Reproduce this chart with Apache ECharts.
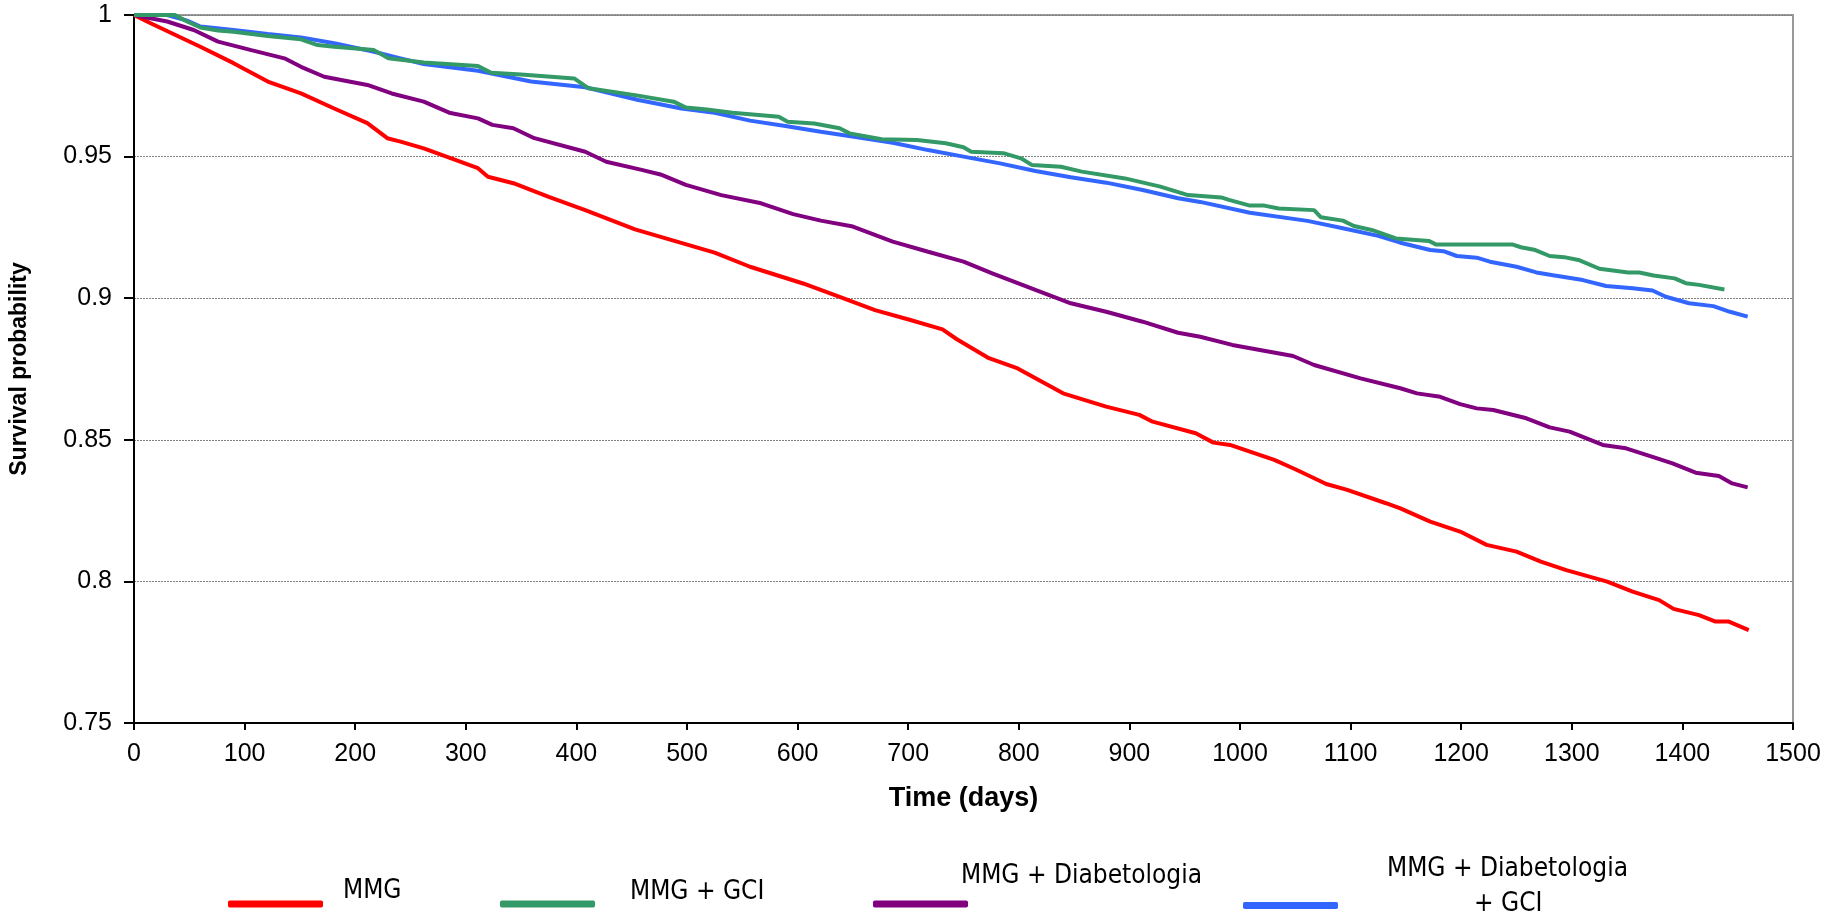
<!DOCTYPE html>
<html>
<head>
<meta charset="utf-8">
<title>Survival probability</title>
<script src="https://cdn.jsdelivr.net/npm/echarts@6/dist/echarts.min.js"></script>
<style>
    html, body { margin: 0; padding: 0; background: #fff; }
    #chart-container { width: 1825px; height: 919px; }
</style>
</head>
<body>
<div id="chart-container"></div>
<script>
'use strict';

// [day, survival probability]
const mmg = [
    [0, 1], [15, 0.9971], [60, 0.9888], [90, 0.983], [121, 0.9765], [151, 0.9723],
    [181, 0.967], [211, 0.9618], [229, 0.9565], [241, 0.9553], [262, 0.9529],
    [311, 0.9459], [320, 0.9429], [343, 0.9406], [375, 0.9358], [408, 0.9311],
    [453, 0.9243], [494, 0.9196], [525, 0.9161], [557, 0.9111], [605, 0.9052],
    [638, 0.9005], [670, 0.8958], [702, 0.8923], [731, 0.889], [744, 0.8855],
    [773, 0.8788], [799, 0.8752], [840, 0.8664], [879, 0.8617], [909, 0.8588],
    [921, 0.8564], [960, 0.8523], [976, 0.849], [991, 0.8482], [1031, 0.8429],
    [1050, 0.8396], [1078, 0.8344], [1097, 0.8323], [1132, 0.8276], [1145, 0.8258],
    [1172, 0.8211], [1199, 0.8176], [1223, 0.8129], [1250, 0.8105], [1272, 0.807],
    [1295, 0.804], [1332, 0.7999], [1355, 0.7964], [1379, 0.7934], [1392, 0.7903],
    [1415, 0.7881], [1430, 0.7858], [1442, 0.7858], [1451, 0.7843], [1460, 0.7828]
];

const mmgGci = [
    [0, 1], [37, 1], [48, 0.9977], [60, 0.9956], [76, 0.9945], [90, 0.9941],
    [121, 0.9926], [151, 0.9914], [166, 0.9894], [181, 0.9888], [217, 0.9876],
    [230, 0.9847], [262, 0.9832], [311, 0.982], [323, 0.9796], [350, 0.979],
    [398, 0.9776], [411, 0.9741], [453, 0.9717], [488, 0.9694], [499, 0.9673],
    [518, 0.9666], [541, 0.9655], [583, 0.9641], [591, 0.9623], [615, 0.9617],
    [638, 0.96], [647, 0.9582], [676, 0.9561], [708, 0.9559], [734, 0.9547],
    [750, 0.9533], [757, 0.9517], [786, 0.9512], [802, 0.9494], [812, 0.947],
    [838, 0.9464], [857, 0.9447], [896, 0.9423], [928, 0.9394], [953, 0.9364],
    [983, 0.9356], [990, 0.9347], [1009, 0.9327], [1022, 0.9327], [1035, 0.9317],
    [1067, 0.9311], [1073, 0.9286], [1093, 0.9274], [1103, 0.9255], [1119, 0.9241],
    [1141, 0.9211], [1171, 0.9202], [1177, 0.919], [1246, 0.919], [1254, 0.918],
    [1267, 0.917], [1280, 0.9149], [1293, 0.9145], [1306, 0.9135], [1325, 0.9104],
    [1351, 0.9091], [1361, 0.9091], [1374, 0.908], [1393, 0.907], [1403, 0.9053],
    [1415, 0.9047], [1438, 0.9031]
];

const mmgDiab = [
    [0, 1], [30, 0.9977], [54, 0.9947], [76, 0.9906], [106, 0.9876], [136, 0.9847],
    [151, 0.9817], [172, 0.9782], [211, 0.9753], [233, 0.9723], [262, 0.9694],
    [285, 0.9655], [311, 0.9635], [324, 0.9612], [343, 0.96], [362, 0.9565],
    [408, 0.9517], [427, 0.9482], [459, 0.9453], [476, 0.9437], [499, 0.94],
    [531, 0.9364], [567, 0.9335], [596, 0.9297], [621, 0.9274], [650, 0.9253],
    [686, 0.92], [718, 0.9164], [750, 0.9129], [776, 0.9088], [815, 0.9029],
    [847, 0.8982], [879, 0.8952], [912, 0.8917], [944, 0.8878], [964, 0.8864],
    [993, 0.8835], [1048, 0.8796], [1067, 0.8764], [1109, 0.8717], [1145, 0.8682],
    [1160, 0.8664], [1181, 0.8652], [1199, 0.8626], [1214, 0.8611], [1229, 0.8605],
    [1259, 0.8576], [1280, 0.8544], [1298, 0.8529], [1328, 0.8482], [1349, 0.847],
    [1373, 0.844], [1391, 0.8417], [1412, 0.8384], [1433, 0.8372], [1445, 0.8346],
    [1459, 0.8332]
];

const mmgDiabGci = [
    [0, 1], [30, 1], [48, 0.998], [60, 0.9959], [90, 0.9947], [121, 0.9933],
    [151, 0.9921], [181, 0.99], [217, 0.987], [241, 0.9847], [262, 0.9827],
    [311, 0.9803], [359, 0.9765], [408, 0.9745], [456, 0.97], [495, 0.967],
    [525, 0.9655], [557, 0.9627], [589, 0.9608], [621, 0.9588], [654, 0.9568],
    [686, 0.9549], [718, 0.9523], [750, 0.95], [783, 0.9476], [815, 0.9449],
    [847, 0.9427], [879, 0.9408], [912, 0.9382], [944, 0.9353], [964, 0.934],
    [1009, 0.9302], [1061, 0.9273], [1093, 0.9247], [1125, 0.922], [1145, 0.9196],
    [1172, 0.917], [1184, 0.9166], [1196, 0.9149], [1214, 0.9143], [1226, 0.9129],
    [1250, 0.9111], [1268, 0.9091], [1283, 0.9081], [1310, 0.9064], [1331, 0.9043],
    [1355, 0.9035], [1373, 0.9027], [1385, 0.9005], [1406, 0.8982], [1428, 0.8972],
    [1443, 0.8952], [1459, 0.8935]
];

const seriesNames = ['MMG', 'MMG + GCI', 'MMG + Diabetologia', 'MMG + Diabetologia + GCI'];
const seriesColors = ['#ff0000', '#339966', '#800080', '#3366ff'];

const axisFont = "'Liberation Sans', Arial, sans-serif";
const legendFont = "'DejaVu Sans Condensed', 'Liberation Sans Narrow', 'DejaVu Sans', sans-serif";

function lineSeries(idx, data, z) {
    return {
        name: seriesNames[idx],
        type: 'line',
        data: data,
        showSymbol: false,
        symbol: 'none',
        z: z,
        lineStyle: { color: seriesColors[idx], width: 4 },
        itemStyle: { color: seriesColors[idx] },
        emphasis: { disabled: true }
    };
}

const legendText = { fontFamily: legendFont, fontSize: 26, lineHeight: 35, color: '#000' };

// each legend entry is placed on its own, text lifted above the line like the original
function legendFor(idx, left, top, padding, lines) {
    return {
        left: left,
        top: top,
        padding: 0,
        icon: 'roundRect',
        itemWidth: 95,
        itemHeight: 7,
        selectedMode: false,
        data: [seriesNames[idx]],
        formatter: function () {
            return lines;
        },
        textStyle: {
            fontFamily: legendFont,
            fontSize: 26,
            color: '#000',
            padding: padding,
            rich: {
                a: legendText,
                b: Object.assign({}, legendText, { padding: [0, 0, 0, 87] })
            }
        }
    };
}

const myChart = echarts.init(document.getElementById('chart-container'), null, { renderer: 'canvas' });

const option = {
    animation: false,
    backgroundColor: '#fff',
    grid: {
        left: 133,
        right: 32,
        top: 15,
        bottom: 196,
        show: true,
        borderColor: '#9a9a9a',
        borderWidth: 2
    },
    legend: [
        legendFor(0, 228, 878, [0, 0, 26, 15], '{a|MMG}'),
        legendFor(1, 500, 879, [0, 0, 24, 30], '{a|MMG + GCI}'),
        legendFor(2, 873, 863, [0, 0, 56, -12], '{a|MMG + Diabetologia}'),
        legendFor(3, 1243, 856, [0, 0, 38, 44], '{a|MMG + Diabetologia}\n{b|+ GCI}')
    ],
    xAxis: {
        type: 'value',
        min: 0,
        max: 1500,
        interval: 100,
        name: 'Time (days)',
        nameLocation: 'middle',
        nameGap: 62,
        nameTextStyle: { fontFamily: axisFont, fontWeight: 'bold', fontSize: 27, color: '#000' },
        axisLine: { show: true, lineStyle: { color: '#000', width: 2 } },
        axisTick: { show: true, length: 7, lineStyle: { color: '#000', width: 2 } },
        axisLabel: {
            fontFamily: axisFont,
            fontSize: 25,
            color: '#000',
            margin: 19,
            formatter: function (v) { return String(v); }
        },
        splitLine: { show: false }
    },
    yAxis: {
        type: 'value',
        min: 0.75,
        max: 1,
        interval: 0.05,
        name: 'Survival probability',
        nameLocation: 'middle',
        nameGap: 103,
        nameTextStyle: { fontFamily: axisFont, fontWeight: 'bold', fontSize: 23, color: '#000' },
        axisLine: { show: true, lineStyle: { color: '#000', width: 2 } },
        axisTick: { show: true, length: 10, lineStyle: { color: '#000', width: 2 } },
        axisLabel: { fontFamily: axisFont, fontSize: 25, color: '#000', margin: 22 },
        splitLine: { show: true, lineStyle: { color: '#808080', width: 1, type: [2, 1] } }
    },
    series: [
        lineSeries(0, mmg, 2),
        lineSeries(2, mmgDiab, 2),
        lineSeries(3, mmgDiabGci, 2),
        lineSeries(1, mmgGci, 3)
    ]
};

myChart.setOption(option);
window.addEventListener('resize', myChart.resize);
</script>
</body>
</html>
